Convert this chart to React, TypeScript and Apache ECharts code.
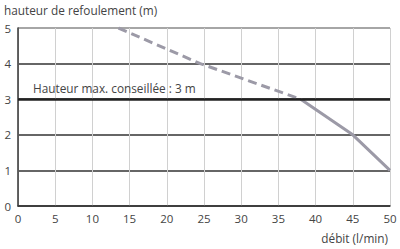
import React, { useEffect, useRef } from "react";
import * as echarts from "echarts";

const yTitle = "hauteur de refoulement (m)";
const xTitle = "débit (l/min)";
const annotation = "Hauteur max. conseillée : 3 m";
const dashedPart: [number, number][] = [[13.5, 5], [24.5, 4], [38, 3]];
const solidPart: [number, number][] = [[38, 3], [45, 2], [50, 1]];
const maxHead = 3;

const FONT = "'Open Sans', sans-serif";
const TXT = "#444";
const LINE = "#9c9aa7";

export default function App() {
  const ref = useRef<HTMLDivElement>(null);
  useEffect(() => {
    const chart = echarts.init(ref.current!, null, { renderer: "svg" });
    chart.setOption({
      animation: false,
      grid: { left: 18, right: 10, top: 28, bottom: 43 },
      xAxis: {
        type: "value", min: 0, max: 50, interval: 5,
        axisLine: { show: true, lineStyle: { color: "#333", width: 1.5 } },
        axisTick: { show: false },
        axisLabel: { color: TXT, fontFamily: FONT, fontSize: 11.5, margin: 6 },
        splitLine: { show: true, lineStyle: { color: "#d0d0d0", width: 1 } },
      },
      yAxis: {
        type: "value", min: 0, max: 5, interval: 1,
        axisLine: { show: true, lineStyle: { color: "#333", width: 1.5 } },
        axisTick: { show: false },
        axisLabel: { color: TXT, fontFamily: FONT, fontSize: 11.5, margin: 7 },
        splitLine: { show: true, lineStyle: { color: ["#333", "#333", "#333", "#333", "#333", "#888"], width: 1.5 } },
      },
      series: [
        {
          type: "line", data: dashedPart, symbol: "none",
          lineStyle: { color: LINE, width: 3, type: [9, 5] },
          markLine: {
            silent: true, symbol: "none",
            data: [{ yAxis: maxHead }],
            lineStyle: { color: "#222", width: 2.5, type: "solid" },
            label: {
              show: true, position: "insideStartTop", formatter: annotation,
              color: TXT, fontFamily: FONT, fontSize: 11.8, distance: [15, 5],
            },
          },
          z: 3,
        },
        {
          type: "line", data: solidPart, symbol: "none",
          lineStyle: { color: LINE, width: 3 },
          z: 3,
        },
      ],
      graphic: [
        { type: "text", left: 4, top: 4, style: { text: yTitle, fill: TXT, font: `11.8px ${FONT}` } },
        { type: "text", right: 12, top: 232, style: { text: xTitle, fill: TXT, font: `11.8px ${FONT}` } },
      ],
    });
    return () => chart.dispose();
  }, []);
  return <div ref={ref} style={{ width: 400, height: 249, position: "absolute", left: 0, top: 0 }} />;
}
